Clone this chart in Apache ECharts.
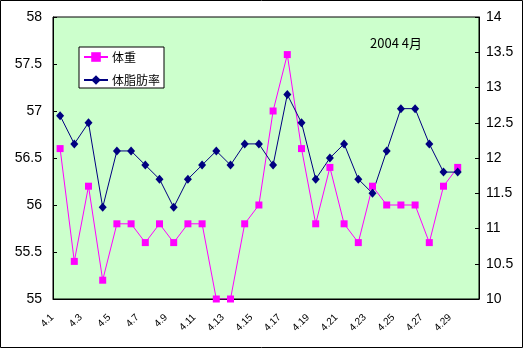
<!DOCTYPE html>
<html>
<head>
<meta charset="utf-8">
<script src="https://cdn.jsdelivr.net/npm/echarts@6/dist/echarts.min.js"></script>
<style>
  html, body { margin: 0; padding: 0; background: #fff; }
  #chart { width: 523px; height: 349px; }
</style>
</head>
<body>
<div id="chart"></div>
<script>
// April 2004: daily weight (kg) and body-fat ratio (%)
const days = ['4.1','4.2','4.3','4.4','4.5','4.6','4.7','4.8','4.9','4.10',
              '4.11','4.12','4.13','4.14','4.15','4.16','4.17','4.18','4.19','4.20',
              '4.21','4.22','4.23','4.24','4.25','4.26','4.27','4.28','4.29','4.30'];
const weight = [56.6, 55.4, 56.2, 55.2, 55.8, 55.8, 55.6, 55.8, 55.6, 55.8,
                55.8, 55.0, 55.0, 55.8, 56.0, 57.0, 57.6, 56.6, 55.8, 56.4,
                55.8, 55.6, 56.2, 56.0, 56.0, 56.0, 55.6, 56.2, 56.4, null];
const bodyFat = [12.6, 12.2, 12.5, 11.3, 12.1, 12.1, 11.9, 11.7, 11.3, 11.7,
                 11.9, 12.1, 11.9, 12.2, 12.2, 11.9, 12.9, 12.5, 11.7, 12.0,
                 12.2, 11.7, 11.5, 12.1, 12.7, 12.7, 12.2, 11.8, 11.8, null];
const weightAxis = { min: 55, max: 58, interval: 0.5 };
const fatAxis = { min: 10, max: 14, interval: 0.5 };

const FONT = '"Liberation Sans", "DejaVu Sans", sans-serif';
const CJK = '"Noto Sans CJK JP", "Liberation Sans", sans-serif';

const chart = echarts.init(document.getElementById('chart'), null, { renderer: 'canvas' });
chart.setOption({
  backgroundColor: '#ffffff',
  animation: false,
  title: {
    text: '2004 4月',
    left: 365, top: 32,
    textStyle: { fontFamily: CJK, fontSize: 13, fontWeight: 'normal', color: '#000' }
  },
  legend: {
    orient: 'vertical',
    left: 79, top: 47,
    padding: [4, 4, 2, 4],
    itemGap: 11,
    itemWidth: 24, itemHeight: 12,
    backgroundColor: '#ffffff',
    borderColor: '#000', borderWidth: 1, borderRadius: 0,
    textStyle: { fontFamily: CJK, fontSize: 12, color: '#000', padding: [0, 0, 0, -1] },
    data: ['体重', '体脂肪率']
  },
  grid: {
    left: 53, right: 44, top: 17, bottom: 50,
    show: true, backgroundColor: '#CCFFCC', borderColor: '#000', borderWidth: 1
  },
  xAxis: {
    type: 'category',
    data: days,
    boundaryGap: true,
    axisLine: { lineStyle: { color: '#000', width: 1 } },
    axisTick: { inside: true, length: 4, interval: 0, lineStyle: { color: '#000' } },
    axisLabel: {
      interval: 1, rotate: 45, margin: 9,
      fontFamily: FONT, fontSize: 10, color: '#000',
      padding: [0, 11, 0, 0]
    }
  },
  yAxis: [
    {
      type: 'value', position: 'left',
      min: weightAxis.min, max: weightAxis.max, interval: weightAxis.interval,
      axisLine: { show: true, lineStyle: { color: '#000' } },
      axisTick: { show: true, inside: true, length: 4, lineStyle: { color: '#000' } },
      splitLine: { show: false },
      axisLabel: { margin: 11, fontFamily: FONT, fontSize: 14, color: '#000' }
    },
    {
      type: 'value', position: 'right',
      min: fatAxis.min, max: fatAxis.max, interval: fatAxis.interval,
      axisLine: { show: true, lineStyle: { color: '#000' } },
      axisTick: { show: true, inside: true, length: 4, lineStyle: { color: '#000' } },
      splitLine: { show: false },
      axisLabel: { margin: 7, fontFamily: FONT, fontSize: 14, color: '#000' }
    }
  ],
  series: [
    {
      name: '体重', type: 'line', yAxisIndex: 0,
      data: weight,
      symbol: 'rect', symbolSize: 7,
      itemStyle: { color: '#FF00FF' },
      lineStyle: { color: '#FF00FF', width: 1 }
    },
    {
      name: '体脂肪率', type: 'line', yAxisIndex: 1,
      data: bodyFat,
      symbol: 'diamond', symbolSize: [8, 9],
      itemStyle: { color: '#000080' },
      lineStyle: { color: '#000080', width: 1 }
    }
  ],
  graphic: [{
    type: 'rect', silent: true, z: 100,
    shape: { x: 0.5, y: 0.5, width: 522, height: 347 },
    style: { fill: 'none', stroke: '#000', lineWidth: 1 }
  }]
});
</script>
</body>
</html>
